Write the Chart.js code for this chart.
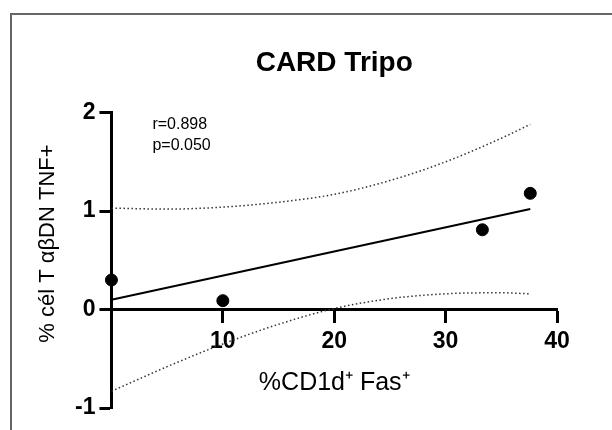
<!DOCTYPE html>
<html>
<head>
<meta charset="utf-8">
<script src="https://cdn.jsdelivr.net/npm/chart.js@4.4.1/dist/chart.umd.min.js"></script>
<style>
  body { margin: 0; background: #fff; }
  #wrap { position: relative; width: 612px; height: 430px; }
  #frame { position: absolute; left: 10px; top: 13px; right: 0; bottom: 0;
           border-top: 2px solid #666; border-left: 2px solid #666; }
  #myChart { position: absolute; left: 0; top: 0; }
</style>
</head>
<body>
<div id="wrap">
  <div id="frame"></div>
  <canvas id="myChart" width="612" height="430"></canvas>
</div>
<script>
// 산점도 데이터 (%CD1d+ Fas+ vs % cél T αβDN TNF+)
var xValues = [0, 10, 33.3, 37.6];
var yValues = [0.30, 0.09, 0.81, 1.18];

// 회귀선 양 끝
var fitX = [0, 37.6];
var fitY = [0.10, 1.02];

// 95% 신뢰구간 (점선)
var bandX = [0, 5, 10, 15, 20, 25, 30, 35, 37.6];
var bandUpper = [1.03, 1.02, 1.04, 1.09, 1.17, 1.31, 1.50, 1.74, 1.88];
var bandLower = [-0.83, -0.58, -0.35, -0.15, 0.01, 0.11, 0.16, 0.17, 0.16];

var xTicks = [0, 10, 20, 30, 40];
var yTicks = [-1, 0, 1, 2];
var statsText = ['r=0.898', 'p=0.050'];

var FONT = "'Liberation Sans', Arial, sans-serif";

function toPoints(xs, ys) {
    return xs.map(function (x, i) { return { x: x, y: ys[i] }; });
}

// y축 제목과 r, p 값 표시
var extraText = {
    id: 'extraText',
    afterDraw: function (chart) {
        var ctx = chart.ctx;
        var area = chart.chartArea;
        ctx.save();
        ctx.fillStyle = '#000';
        ctx.font = '16px ' + FONT;
        ctx.textAlign = 'left';
        ctx.textBaseline = 'alphabetic';
        statsText.forEach(function (t, i) {
            ctx.fillText(t, area.left + 41, area.top + 16 + i * 21);
        });

        ctx.translate(area.left - 64, area.top + 131);
        ctx.rotate(-Math.PI / 2);
        ctx.font = '22px ' + FONT;
        ctx.textAlign = 'center';
        ctx.textBaseline = 'middle';
        ctx.fillText('% cél T αβDN TNF+', 0, 0);
        ctx.restore();
    }
};

var ctx = document.getElementById('myChart').getContext('2d');
var myChart = new Chart(ctx, {
type: 'scatter',
data: {
    datasets: [{
        label: 'data',
        data: toPoints(xValues, yValues),
        pointRadius: 6,
        pointBackgroundColor: '#000',
        pointBorderColor: '#000',
        pointBorderWidth: 1,
        clip: false
    }, {
        label: 'fit',
        data: toPoints(fitX, fitY),
        showLine: true,
        pointRadius: 0,
        borderColor: '#000',
        borderWidth: 2
    }, {
        label: 'upper',
        data: toPoints(bandX, bandUpper),
        showLine: true,
        pointRadius: 0,
        borderColor: '#333',
        borderWidth: 1.5,
        borderDash: [1.5, 2.5],
        cubicInterpolationMode: 'monotone'
    }, {
        label: 'lower',
        data: toPoints(bandX, bandLower),
        showLine: true,
        pointRadius: 0,
        borderColor: '#333',
        borderWidth: 1.5,
        borderDash: [1.5, 2.5],
        cubicInterpolationMode: 'monotone'
    }]
},
options: {
    responsive: false,
    devicePixelRatio: 1,
    animation: false,
    layout: {
        padding: { top: 0, left: 71, right: 55, bottom: 22 }
    },
    plugins: {
        legend: { display: false },
        tooltip: { enabled: false },
        title: {
            display: true,
            text: 'CARD Tripo',
            fullSize: false,
            color: '#000',
            font: { family: FONT, size: 28, weight: 'bold' },
            padding: { top: 46, bottom: 33 }
        }
    },
    scales: {
        x: {
            type: 'linear',
            position: { y: 0 },
            min: xTicks[0],
            max: xTicks[xTicks.length - 1],
            afterBuildTicks: function (scale) {
                scale.ticks = xTicks.map(function (v) { return { value: v }; });
            },
            ticks: {
                color: '#000',
                padding: 6,
                font: { family: FONT, size: 23, weight: 'bold' },
                callback: function (v) { return v === 0 ? '' : v; }
            },
            grid: { drawOnChartArea: false, tickLength: 12, tickWidth: 3, color: '#000' },
            border: { color: '#000', width: 3 },
            title: {
                display: true,
                text: '%CD1d\u207A Fas\u207A',
                color: '#000',
                font: { family: FONT, size: 25 },
                padding: { top: 7, bottom: 0 }
            }
        },
        y: {
            type: 'linear',
            position: 'left',
            min: yTicks[0],
            max: yTicks[yTicks.length - 1],
            afterBuildTicks: function (scale) {
                scale.ticks = yTicks.map(function (v) { return { value: v }; });
            },
            ticks: {
                color: '#000',
                padding: 4,
                font: { family: FONT, size: 23, weight: 'bold' }
            },
            grid: { drawOnChartArea: false, tickLength: 12, tickWidth: 3, color: '#000' },
            border: { color: '#000', width: 3 }
        }
    }
},
plugins: [extraText]
});
</script>
</body>
</html>
